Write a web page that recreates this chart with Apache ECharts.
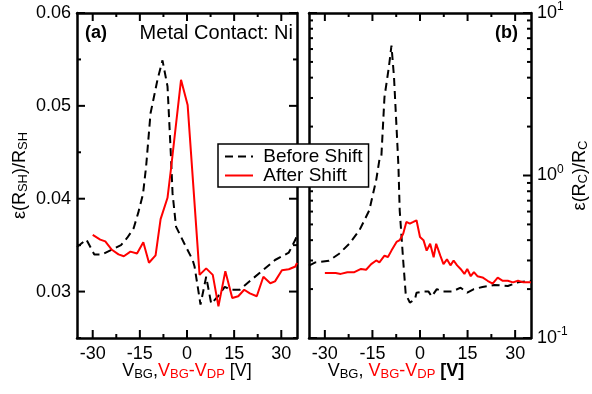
<!DOCTYPE html>
<html><head><meta charset="utf-8">
<script src="https://cdn.jsdelivr.net/npm/echarts@6/dist/echarts.min.js"></script>
<style>html,body{margin:0;padding:0;background:#fff}#c{width:592px;height:394px}</style>
</head><body><div id="c"></div>
<script>
// ---- data ----
const seriesNames = ['Before Shift', 'After Shift'];
const xMajor = [-30, -15, 0, 15, 30];
const xMinor = [-22.5, -7.5, 7.5, 22.5];
const yMajorA = [0.03, 0.04, 0.05, 0.06];
const yMinorA = [0.025, 0.035, 0.045, 0.055];
const yMajorB = [0.1, 1, 10];
const yMinorB = [0.2, 0.3, 0.4, 0.5, 0.6, 0.7, 0.8, 0.9, 2, 3, 4, 5, 6, 7, 8, 9];

// panel (a): eps(R_SH)/R_SH
const beforeA = [[-35,0.0348],[-32,0.0356],[-29.5,0.0340],[-27,0.0340],[-24,0.0345],[-21,0.0350],[-19,0.0358],[-17,0.0368],[-15.5,0.0385],[-14,0.0405],[-13,0.0435],[-11.6,0.0492],[-9.4,0.0528],[-7.8,0.0549],[-6.2,0.0521],[-5.1,0.0445],[-4.6,0.0406],[-3.5,0.0370],[-0.9,0.0352],[1.8,0.0334],[2.4,0.0327],[4.3,0.0286],[6.1,0.0316],[7.7,0.0287],[9.9,0.0295],[12,0.0305],[14,0.0302],[16.8,0.0302],[20.6,0.0313],[23.8,0.0322],[28,0.0334],[32.4,0.0342],[34.5,0.0356],[35,0.0361]];
const afterA = [[-30,0.0361],[-27.6,0.0356],[-26,0.0354],[-23.9,0.0345],[-21.8,0.0340],[-20.1,0.0338],[-18,0.0343],[-15.9,0.0341],[-13.9,0.0353],[-12.1,0.0331],[-10,0.0339],[-8.4,0.0378],[-6.2,0.0401],[-5.1,0.0432],[-1.9,0.0528],[0.2,0.0501],[4,0.0318],[6.1,0.0325],[8.2,0.0318],[10,0.0284],[12.2,0.0322],[14.4,0.0293],[16.3,0.0295],[18.2,0.0302],[20,0.0298],[22.2,0.0295],[24.3,0.0316],[26.5,0.0309],[28,0.0311],[30.2,0.0323],[32.4,0.0324],[34.5,0.0327],[35,0.0331]];

// panel (b): eps(R_C)/R_C
const beforeB = [[-35,0.279],[-33,0.292],[-28.7,0.299],[-25.5,0.33],[-22.3,0.38],[-19.1,0.46],[-16,0.61],[-13.8,0.94],[-12.8,1.25],[-12.2,1.29],[-11.2,3.04],[-9.8,4.67],[-9,6.3],[-8.2,4.05],[-7.4,1.98],[-6.8,1.14],[-6.4,0.61],[-5.3,0.30],[-4.5,0.186],[-3.2,0.165],[-1.6,0.173],[-1.1,0.19],[1.1,0.193],[2.7,0.193],[3.7,0.18],[5.3,0.20],[7.4,0.193],[10.1,0.193],[12.8,0.204],[14.9,0.19],[17,0.20],[19.7,0.206],[23.4,0.212],[27.7,0.209],[30.9,0.22],[35,0.225]];
const afterB = [[-30,0.251],[-26.6,0.251],[-25,0.248],[-22.9,0.254],[-20.7,0.254],[-18.6,0.266],[-17,0.263],[-15.4,0.285],[-13.8,0.30],[-12.8,0.292],[-11.2,0.321],[-10.1,0.315],[-9,0.345],[-7.4,0.39],[-6.4,0.40],[-5.3,0.438],[-4.3,0.518],[-3.2,0.506],[-2.1,0.518],[-1.1,0.53],[0,0.418],[1.1,0.40],[2.1,0.345],[3.2,0.38],[4.3,0.314],[5.1,0.38],[6.4,0.321],[7.4,0.285],[8.5,0.305],[9.6,0.28],[10.6,0.30],[11.7,0.28],[12.8,0.266],[14,0.248],[14.9,0.266],[16,0.24],[17,0.254],[18.1,0.24],[19.7,0.236],[21.3,0.225],[22.9,0.216],[24.5,0.235],[26.1,0.225],[27.7,0.225],[29.3,0.22],[30.9,0.225],[32.6,0.22],[35,0.22]];

// ---- chart ----
const FONT = "'Liberation Sans', Arial, Helvetica, sans-serif";
const BLACK = '#000', RED = '#ff0000';
const MAJOR_LEN = 8, MINOR_LEN = 4;
const X_MIN = -35, X_MAX = 35;
const GRID_A = {left: 77, top: 13, width: 220, height: 325};
const GRID_B = {left: 309, top: 13, width: 222, height: 325};
const chart = echarts.init(document.getElementById('c'), null, {renderer: 'canvas'});

const subRich = {
  k: {color: BLACK, fontSize: 18, lineHeight: 20, fontFamily: FONT},
  ks: {color: BLACK, fontSize: 13, lineHeight: 10, verticalAlign: 'bottom', fontFamily: FONT},
  r: {color: RED, fontSize: 18, lineHeight: 20, fontFamily: FONT},
  rs: {color: RED, fontSize: 13, lineHeight: 10, verticalAlign: 'bottom', fontFamily: FONT},
  kb: {color: BLACK, fontSize: 18, lineHeight: 20, fontWeight: 'bold', fontFamily: FONT}
};
const supRich = {
  b: {color: BLACK, fontSize: 18, lineHeight: 24, fontFamily: FONT},
  p: {color: BLACK, fontSize: 12, lineHeight: 12, verticalAlign: 'top', fontFamily: FONT}
};

const frameLine = {show: true, onZero: false, lineStyle: {color: BLACK, width: 2.5}};
const noTick = {show: false};

function xAxes(g, nameStr, namePad) {
  const base = {gridIndex: g, type: 'value', min: X_MIN, max: X_MAX, splitLine: {show: false},
    axisLine: frameLine, axisTick: noTick};
  return [
    Object.assign({}, base, {position: 'bottom',
      axisLabel: {customValues: xMajor, fontSize: 18, color: BLACK, margin: 7, fontFamily: FONT},
      name: nameStr, nameLocation: 'middle', nameGap: 23, nameMoveOverlap: false,
      nameTextStyle: {rich: subRich, padding: namePad}}),
    Object.assign({}, base, {position: 'top', axisLabel: {show: false}})
  ];
}
function yAxes(g, type, min, max, major, labelSide, labelCfg, nameStr, nameGap) {
  const base = {gridIndex: g, type: type, min: min, max: max, splitLine: {show: false},
    axisLine: frameLine, axisTick: noTick};
  if (type === 'log') base.logBase = 10;
  const other = labelSide === 'left' ? 'right' : 'left';
  return [
    Object.assign({}, base, {position: labelSide,
      axisLabel: Object.assign({customValues: major, color: BLACK, fontFamily: FONT, fontSize: 18}, labelCfg),
      name: nameStr, nameLocation: 'middle', nameRotate: 90, nameGap: nameGap, nameMoveOverlap: false,
      nameTextStyle: {rich: subRich}}),
    Object.assign({}, base, {position: other, axisLabel: {show: false}})
  ];
}

// inside tick marks on all four sides, drawn as short line series on the panel's own axes
function tickSeries(xi, yi, grid, xmaj, xmin, ymaj, ymin, yLo, yHi, isLog) {
  const dxPerPx = (X_MAX - X_MIN) / grid.width;
  const yOff = (y, px) => isLog ? y * Math.pow(yHi / yLo, px / grid.height)
                                : y + (yHi - yLo) * px / grid.height;
  const segs = [];
  [[xmaj, MAJOR_LEN], [xmin, MINOR_LEN]].forEach(([vals, len]) => vals.forEach(v => {
    segs.push([[v, yLo], [v, yOff(yLo, len)]]);
    segs.push([[v, yHi], [v, yOff(yHi, -len)]]);
  }));
  [[ymaj, MAJOR_LEN], [ymin, MINOR_LEN]].forEach(([vals, len]) => vals.forEach(v => {
    segs.push([[X_MIN, v], [X_MIN + len * dxPerPx, v]]);
    segs.push([[X_MAX, v], [X_MAX - len * dxPerPx, v]]);
  }));
  return segs.map(d => ({type: 'line', xAxisIndex: xi, yAxisIndex: yi, data: d,
    symbol: 'none', showSymbol: false, silent: true, clip: false, animation: false,
    lineStyle: {color: BLACK, width: 2}, z: 5}));
}

const xName = '{k|V}{ks|BG}{k|,}{r|V}{rs|BG}{r|-V}{rs|DP}{k| [V]}';
const xNameB = '{k|V}{ks|BG}{k|,}{r| V}{rs|BG}{r|-V}{rs|DP}{kb| [V]}';
const yNameA = '{k|ε(R}{ks|SH}{k|)/R}{ks|SH}';
const yNameB = '{k|ε(R}{ks|C}{k|)/R}{ks|C}';

const logLabel = v => '{b|10}{p|' + Math.round(Math.log10(v)) + '}';

const lineBase = {type: 'line', showSymbol: false, symbol: 'none', clip: true, animation: false};
const option = {
  animation: false,
  textStyle: {fontFamily: FONT},
  grid: [
    Object.assign({show: false, containLabel: false, outerBoundsMode: 'none'}, GRID_A),
    Object.assign({show: false, containLabel: false, outerBoundsMode: 'none'}, GRID_B)
  ],
  xAxis: xAxes(0, xName, [0, 0, 0, 0]).concat(xAxes(1, xNameB, [0, 48, 0, 0])),
  yAxis: yAxes(0, 'value', 0.025, 0.06, yMajorA, 'left',
            {margin: 6, formatter: v => v.toFixed(2)}, yNameA, 47)
    .concat(yAxes(1, 'log', 0.1, 10, yMajorB, 'right',
            {margin: 6, formatter: logLabel, rich: supRich}, yNameB, 39)),
  legend: {
    data: seriesNames, orient: 'vertical', left: 218, top: 144,
    backgroundColor: '#fff', borderColor: BLACK, borderWidth: 1.5, borderRadius: 0,
    padding: [3, 6, 2, 6], itemWidth: 28, itemHeight: 14, itemGap: 0,
    itemStyle: {opacity: 0},
    formatter: name => ' ' + name,
    textStyle: {fontSize: 19, lineHeight: 19, color: BLACK, fontFamily: FONT},
    z: 10
  },
  series: [
    Object.assign({}, lineBase, {name: seriesNames[0], xAxisIndex: 0, yAxisIndex: 0, data: beforeA,
      lineStyle: {color: BLACK, width: 2, type: [8, 5]}, itemStyle: {color: BLACK}}),
    Object.assign({}, lineBase, {name: seriesNames[1], xAxisIndex: 0, yAxisIndex: 0, data: afterA,
      lineStyle: {color: RED, width: 2}, itemStyle: {color: RED}}),
    Object.assign({}, lineBase, {name: seriesNames[0], xAxisIndex: 2, yAxisIndex: 2, data: beforeB,
      lineStyle: {color: BLACK, width: 2, type: [8, 5]}, itemStyle: {color: BLACK}}),
    Object.assign({}, lineBase, {name: seriesNames[1], xAxisIndex: 2, yAxisIndex: 2, data: afterB,
      lineStyle: {color: RED, width: 2}, itemStyle: {color: RED}})
  ].concat(tickSeries(0, 0, GRID_A, xMajor, xMinor, yMajorA, yMinorA, 0.025, 0.06, false))
   .concat(tickSeries(2, 2, GRID_B, xMajor, xMinor, yMajorB, yMinorB, 0.1, 10, true)),
  graphic: [
    {type: 'text', left: 85, top: 24, style: {text: '(a)', font: 'bold 18px ' + FONT, fill: BLACK}},
    {type: 'text', right: 592 - 293, top: 23, style: {text: 'Metal Contact: Ni', font: '20px ' + FONT, fill: BLACK}},
    {type: 'text', right: 592 - 518, top: 24, style: {text: '(b)', font: 'bold 18px ' + FONT, fill: BLACK}}
  ]
};
chart.setOption(option);
</script>
</body></html>
